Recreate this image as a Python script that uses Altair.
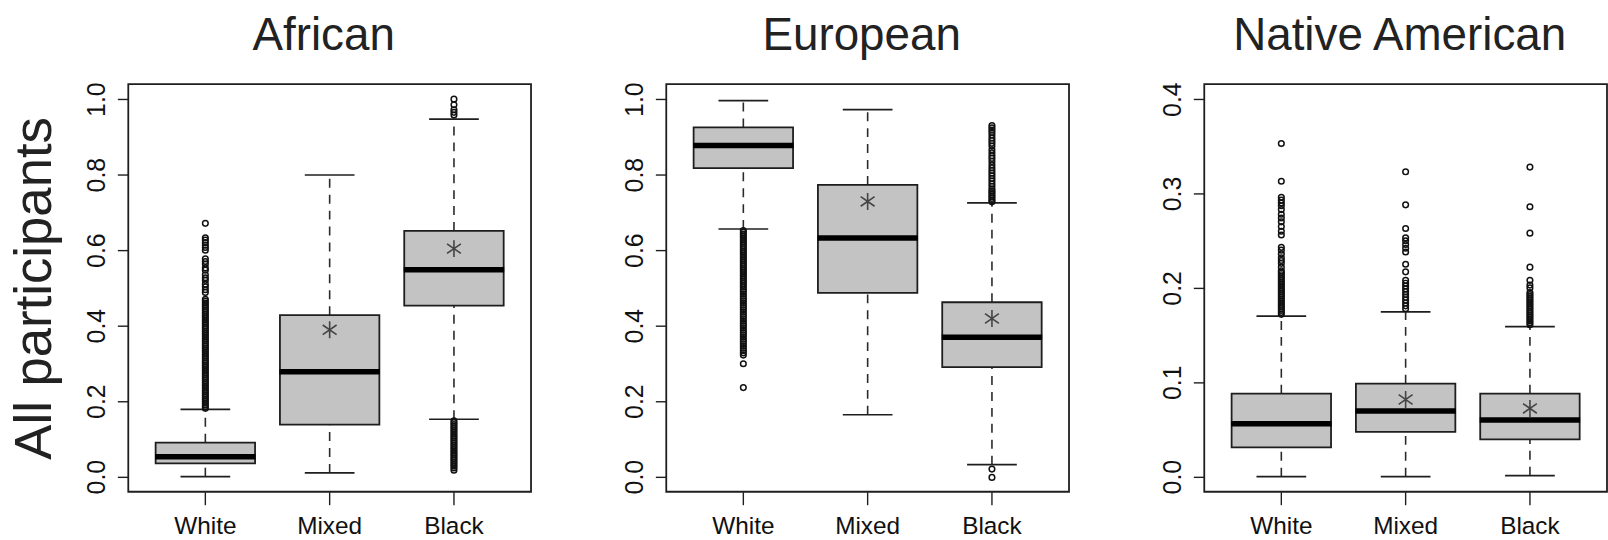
import altair as alt
import pandas as pd

# ---------------- data ----------------
groups = ["White", "Mixed", "Black"]
panel_titles = ["African", "European", "Native American"]

# box statistics per group (White, Mixed, Black)
afr_lo = [0.0, 0.010, 0.152]
afr_q1 = [0.035, 0.138, 0.453]
afr_med = [0.053, 0.278, 0.548]
afr_q3 = [0.090, 0.428, 0.651]
afr_hi = [0.178, 0.799, 0.947]
afr_mean_groups = ["Mixed", "Black"]
afr_mean = [0.389, 0.604]

eur_lo = [0.656, 0.164, 0.032]
eur_q1 = [0.817, 0.487, 0.290]
eur_med = [0.877, 0.632, 0.369]
eur_q3 = [0.925, 0.773, 0.462]
eur_hi = [0.996, 0.972, 0.725]
eur_mean_groups = ["Mixed", "Black"]
eur_mean = [0.729, 0.419]

nat_lo = [0.0, 0.0, 0.001]
nat_q1 = [0.031, 0.0474, 0.0396]
nat_med = [0.056, 0.0695, 0.060]
nat_q3 = [0.088, 0.0986, 0.088]
nat_hi = [0.170, 0.1747, 0.159]
nat_mean_groups = ["Mixed", "Black"]
nat_mean = [0.0818, 0.0723]

# outliers
afr_white_out = [0.671, 0.633, 0.627, 0.620, 0.613, 0.607, 0.600, 0.577, 0.570, 0.563,
                 0.553, 0.547, 0.535, 0.527, 0.520, 0.510, 0.503, 0.495, 0.488,
                 0.470, 0.465, 0.460, 0.455, 0.450, 0.445, 0.440, 0.435, 0.430, 0.425,
                 0.420, 0.415, 0.410, 0.405, 0.400, 0.395, 0.390, 0.385, 0.380, 0.375,
                 0.370, 0.365, 0.360, 0.355, 0.350, 0.345, 0.340, 0.335, 0.330, 0.325,
                 0.320, 0.315, 0.310, 0.305, 0.300, 0.295, 0.290, 0.285, 0.280, 0.275,
                 0.270, 0.265, 0.260, 0.255, 0.250, 0.245, 0.240, 0.235, 0.230, 0.225,
                 0.220, 0.215, 0.210, 0.205, 0.200, 0.195, 0.190, 0.185, 0.181]
afr_mixed_out = []
afr_black_out = [1.000, 0.985, 0.972, 0.965, 0.958,
                 0.148, 0.143, 0.138, 0.133, 0.128, 0.123, 0.118, 0.113, 0.108, 0.103,
                 0.098, 0.093, 0.088, 0.083, 0.078, 0.073, 0.068, 0.063, 0.058, 0.053,
                 0.048, 0.043, 0.038, 0.033, 0.028, 0.023, 0.017]

eur_white_out = [0.652, 0.647, 0.642, 0.637, 0.632, 0.627, 0.622, 0.617, 0.612, 0.607,
                 0.602, 0.597, 0.592, 0.587, 0.582, 0.577, 0.572, 0.567, 0.562, 0.557,
                 0.552, 0.547, 0.542, 0.537, 0.532, 0.527, 0.522, 0.517, 0.512, 0.507,
                 0.502, 0.496, 0.490, 0.484, 0.478, 0.472, 0.466, 0.460, 0.454, 0.448,
                 0.442, 0.436, 0.430, 0.424, 0.418, 0.412, 0.406, 0.400, 0.394, 0.388,
                 0.382, 0.376, 0.370, 0.364, 0.358, 0.352, 0.346, 0.340, 0.334, 0.328,
                 0.322, 0.299, 0.236]
eur_mixed_out = []
eur_black_out = [0.930, 0.924, 0.918, 0.912, 0.905, 0.897, 0.890, 0.883, 0.876, 0.866,
                 0.858, 0.850, 0.843, 0.835, 0.826, 0.818, 0.811, 0.804, 0.797, 0.790,
                 0.783, 0.776, 0.769, 0.762, 0.757, 0.752, 0.747, 0.742, 0.737, 0.732,
                 0.728, 0.020, -0.002]

nat_white_out = [0.353, 0.313, 0.296, 0.293, 0.290, 0.287, 0.283, 0.278, 0.274, 0.270,
                 0.265, 0.260, 0.256, 0.243, 0.240, 0.236, 0.232, 0.229, 0.226, 0.222,
                 0.218, 0.216, 0.214, 0.212, 0.210, 0.208, 0.206, 0.204, 0.202, 0.200,
                 0.198, 0.196, 0.194, 0.192, 0.190, 0.188, 0.186, 0.184, 0.182, 0.180,
                 0.178, 0.176, 0.174, 0.172]
nat_mixed_out = [0.323, 0.288, 0.263, 0.253, 0.250, 0.246, 0.242, 0.238, 0.225, 0.217,
                 0.208, 0.205, 0.202, 0.199, 0.196, 0.193, 0.190, 0.187, 0.184, 0.181,
                 0.178]
nat_black_out = [0.328, 0.286, 0.258, 0.222, 0.208, 0.203, 0.200,
                 0.195, 0.193, 0.191, 0.189, 0.187, 0.185, 0.183, 0.181, 0.179, 0.177,
                 0.175, 0.173, 0.171, 0.169, 0.167, 0.165, 0.163, 0.161]

afr_ticks = [0.0, 0.2, 0.4, 0.6, 0.8, 1.0]
eur_ticks = [0.0, 0.2, 0.4, 0.6, 0.8, 1.0]
nat_ticks = [0.0, 0.1, 0.2, 0.3, 0.4]

# ---------------- styling ----------------
FONT = "Liberation Sans"
BOX_FILL = "#c3c3c3"
DARK = "#1e1e1e"
W, H = 405, 410

STAR = "M0,-1L0,1M-0.82,-0.57L0.82,0.57M-0.82,0.57L0.82,-0.57"


def make_panel(title, lo, q1, med, q3, hi, mean_groups, means, outs, ticks, ymax, ytitle):
    stats = pd.DataFrame({"group": groups, "lo": lo, "q1": q1, "med": med, "q3": q3, "hi": hi})
    out_rows = []
    for g, vals in zip(groups, outs):
        for v in vals:
            out_rows.append({"group": g, "value": v})
    out_df = pd.DataFrame(out_rows, columns=["group", "value"])
    mean_df = pd.DataFrame({"group": mean_groups, "mean": means})

    pad = ymax * 0.04
    yscale = alt.Scale(domain=[-pad, ymax + pad], nice=False, zero=False)
    xscale = alt.Scale(type="band", domain=groups, paddingInner=0.2, paddingOuter=0.22)

    xaxis = alt.Axis(labelAngle=0, tickSize=13, tickColor=DARK, tickWidth=1.4, domain=False,
                     grid=False, labelFont=FONT, labelFontSize=24.5, labelColor="#111",
                     labelPadding=29, labelBaseline="alphabetic")
    yaxis_kw = dict(values=ticks, format=".1f", labelAngle=270, labelAlign="center",
                    labelBaseline="alphabetic", labelPadding=13, tickSize=11, tickColor=DARK,
                    tickWidth=1.4, domain=False, grid=False, labelFont=FONT, labelFontSize=25,
                    labelColor="#111", labelFlush=False, labelOverlap=False)
    if ytitle:
        yaxis_kw.update(titleX=-78, titleY=H / 2, titleAngle=270, titleAlign="center",
                        titleBaseline="alphabetic", titleFont=FONT, titleFontSize=53,
                        titleFontWeight="normal", titleColor="#222")
    yaxis = alt.Axis(**yaxis_kw)

    def X():
        return alt.X("group:N", scale=xscale, axis=xaxis, sort=groups, title=None)

    def Y(field):
        if ytitle:
            return alt.Y(field, type="quantitative", scale=yscale, axis=yaxis, title=ytitle)
        return alt.Y(field, type="quantitative", scale=yscale, axis=yaxis, title=None)

    base = alt.Chart(stats)
    whisk_lo = base.mark_rule(color="#2a2a2a", strokeWidth=1.6, strokeDash=[9, 7]).encode(
        x=X(), y=Y("lo"), y2="q1")
    whisk_hi = base.mark_rule(color="#2a2a2a", strokeWidth=1.6, strokeDash=[9, 7]).encode(
        x=X(), y=Y("q3"), y2="hi")
    cap_lo = base.mark_tick(color=DARK, size=50, thickness=1.7, orient="horizontal",
                            opacity=1).encode(x=X(), y=Y("lo"))
    cap_hi = base.mark_tick(color=DARK, size=50, thickness=1.7, orient="horizontal",
                            opacity=1).encode(x=X(), y=Y("hi"))
    box = base.mark_bar(fill=BOX_FILL, stroke=DARK, strokeWidth=1.8, opacity=1).encode(
        x=X(), y=Y("q1"), y2="q3")
    median = base.mark_tick(color="#000", size=101, thickness=5.5, orient="horizontal",
                            opacity=1).encode(x=X(), y=Y("med"))
    outl = alt.Chart(out_df).mark_point(shape="circle", filled=False, size=32, color="#111",
                                        strokeWidth=1.5, opacity=1).encode(
        x=X(), y=Y("value"))
    star = alt.Chart(mean_df).mark_point(shape=STAR, filled=False, size=290, color="#444",
                                         strokeWidth=1.6, opacity=1).encode(
        x=X(), y=Y("mean"))

    return alt.layer(whisk_lo, whisk_hi, cap_lo, cap_hi, box, median, outl, star).properties(
        width=W, height=H,
        title=alt.TitleParams(title, font=FONT, fontSize=46, fontWeight="normal", color="#222",
                              anchor="middle", dx=-6, offset=-14, baseline="alphabetic"))


p1 = make_panel(panel_titles[0], afr_lo, afr_q1, afr_med, afr_q3, afr_hi, afr_mean_groups,
                afr_mean, [afr_white_out, afr_mixed_out, afr_black_out], afr_ticks, 1.0,
                "All participants")
p2 = make_panel(panel_titles[1], eur_lo, eur_q1, eur_med, eur_q3, eur_hi, eur_mean_groups,
                eur_mean, [eur_white_out, eur_mixed_out, eur_black_out], eur_ticks, 1.0, None)
p3 = make_panel(panel_titles[2], nat_lo, nat_q1, nat_med, nat_q3, nat_hi, nat_mean_groups,
                nat_mean, [nat_white_out, nat_mixed_out, nat_black_out], nat_ticks, 0.4, None)

chart = alt.hconcat(p1, p2, p3, spacing=136, bounds="flush").properties(
    padding={"left": 8, "top": 10, "right": 0, "bottom": 0},
    background="white",
).configure_view(stroke=DARK, strokeWidth=1.8)

chart.save("out.html", embed_options={"renderer": "svg", "actions": False})
